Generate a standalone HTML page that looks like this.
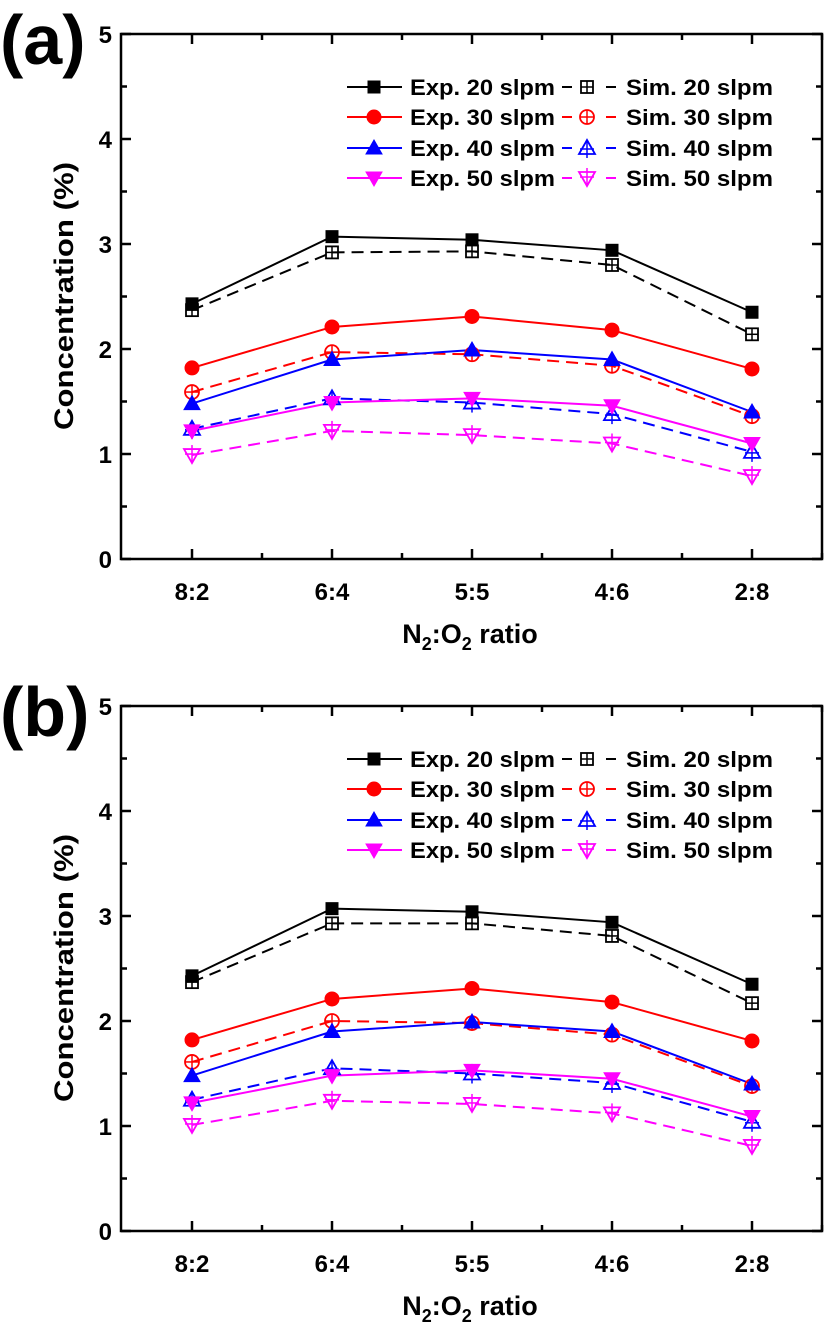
<!DOCTYPE html>
<html><head><meta charset="utf-8"><style>
html,body{margin:0;padding:0;background:#fff}
svg text{font-family:"Liberation Sans",Arial,sans-serif;font-weight:bold;fill:#000}
</style></head><body>
<svg id="s" width="830" height="1329" viewBox="0 0 830 1329" xmlns="http://www.w3.org/2000/svg">
<g id="pa">
<text x="0" y="64" font-size="70">(a)</text>
<g font-size="24" text-anchor="end">
<text x="112" y="568">0</text><text x="112" y="463">1</text><text x="112" y="358">2</text><text x="112" y="253">3</text><text x="112" y="148">4</text><text x="112" y="43">5</text>
</g>
<g font-size="24" text-anchor="middle">
<text x="192" y="600">8:2</text><text x="332" y="600">6:4</text><text x="472" y="600">5:5</text><text x="612" y="600">4:6</text><text x="752" y="600">2:8</text>
</g>
<text x="470" y="643" font-size="27" text-anchor="middle">N<tspan font-size="18" dy="7">2</tspan><tspan dy="-7">:O</tspan><tspan font-size="18" dy="7">2</tspan><tspan dy="-7"> ratio</tspan></text>
<text transform="translate(73,296) rotate(-90)" font-size="27" text-anchor="middle" textLength="268" lengthAdjust="spacingAndGlyphs">Concentration (%)</text>
<g font-size="22">
<text x="410" y="95" textLength="145" lengthAdjust="spacingAndGlyphs">Exp. 20 slpm</text><text x="410" y="125" textLength="145" lengthAdjust="spacingAndGlyphs">Exp. 30 slpm</text><text x="410" y="156" textLength="145" lengthAdjust="spacingAndGlyphs">Exp. 40 slpm</text><text x="410" y="186" textLength="145" lengthAdjust="spacingAndGlyphs">Exp. 50 slpm</text>
<text x="626" y="95" textLength="147" lengthAdjust="spacingAndGlyphs">Sim. 20 slpm</text><text x="626" y="125" textLength="147" lengthAdjust="spacingAndGlyphs">Sim. 30 slpm</text><text x="626" y="156" textLength="147" lengthAdjust="spacingAndGlyphs">Sim. 40 slpm</text><text x="626" y="186" textLength="147" lengthAdjust="spacingAndGlyphs">Sim. 50 slpm</text>
</g>
</g>
<g id="pb" transform="translate(0,672)">
<text x="0" y="64" font-size="70">(b)</text>
<g font-size="24" text-anchor="end">
<text x="112" y="568">0</text><text x="112" y="463">1</text><text x="112" y="358">2</text><text x="112" y="253">3</text><text x="112" y="148">4</text><text x="112" y="43">5</text>
</g>
<g font-size="24" text-anchor="middle">
<text x="192" y="600">8:2</text><text x="332" y="600">6:4</text><text x="472" y="600">5:5</text><text x="612" y="600">4:6</text><text x="752" y="600">2:8</text>
</g>
<text x="470" y="643" font-size="27" text-anchor="middle">N<tspan font-size="18" dy="7">2</tspan><tspan dy="-7">:O</tspan><tspan font-size="18" dy="7">2</tspan><tspan dy="-7"> ratio</tspan></text>
<text transform="translate(73,296) rotate(-90)" font-size="27" text-anchor="middle" textLength="268" lengthAdjust="spacingAndGlyphs">Concentration (%)</text>
<g font-size="22">
<text x="410" y="95" textLength="145" lengthAdjust="spacingAndGlyphs">Exp. 20 slpm</text><text x="410" y="125" textLength="145" lengthAdjust="spacingAndGlyphs">Exp. 30 slpm</text><text x="410" y="156" textLength="145" lengthAdjust="spacingAndGlyphs">Exp. 40 slpm</text><text x="410" y="186" textLength="145" lengthAdjust="spacingAndGlyphs">Exp. 50 slpm</text>
<text x="626" y="95" textLength="147" lengthAdjust="spacingAndGlyphs">Sim. 20 slpm</text><text x="626" y="125" textLength="147" lengthAdjust="spacingAndGlyphs">Sim. 30 slpm</text><text x="626" y="156" textLength="147" lengthAdjust="spacingAndGlyphs">Sim. 40 slpm</text><text x="626" y="186" textLength="147" lengthAdjust="spacingAndGlyphs">Sim. 50 slpm</text>
</g>
</g>
</svg>
<script>
var NS="http://www.w3.org/2000/svg";
function el(p,t,a){var e=document.createElementNS(NS,t);for(var k in a)e.setAttribute(k,a[k]);p.appendChild(e);return e;}
var X=[192,332,472,612,752];
function Y(v){return 559-105*v;}
var cols=["#000","#f00","#00f","#f0f"];
var dataA={exp:[[2.43,3.07,3.04,2.94,2.35],[1.82,2.21,2.31,2.18,1.81],[1.48,1.90,1.99,1.90,1.40],[1.22,1.49,1.53,1.46,1.10]],
sim:[[2.37,2.92,2.93,2.80,2.14],[1.59,1.97,1.95,1.84,1.36],[1.24,1.53,1.49,1.38,1.02],[0.99,1.22,1.18,1.10,0.79]]};
var dataB={exp:[[2.43,3.07,3.04,2.94,2.35],[1.82,2.21,2.31,2.18,1.81],[1.48,1.90,1.99,1.90,1.40],[1.22,1.48,1.53,1.45,1.09]],
sim:[[2.37,2.93,2.93,2.81,2.17],[1.61,2.00,1.98,1.87,1.38],[1.25,1.55,1.50,1.41,1.04],[1.01,1.24,1.21,1.12,0.81]]};
function marker(g,i,x,y,filled){var c=cols[i],s=7;
 var f=filled?c:"none",sw=filled?1:1.8;
 if(i==0){el(g,"rect",{x:x-s+1,y:y-s+1,width:2*s-2,height:2*s-2,fill:f,stroke:c,"stroke-width":sw});
  if(!filled){el(g,"line",{x1:x-s+1,y1:y,x2:x+s-1,y2:y,stroke:c,"stroke-width":1.5});el(g,"line",{x1:x,y1:y-s+1,x2:x,y2:y+s-1,stroke:c,"stroke-width":1.5});}}
 else if(i==1){el(g,"circle",{cx:x,cy:y,r:s,fill:f,stroke:c,"stroke-width":sw});
  if(!filled){el(g,"line",{x1:x-s,y1:y,x2:x+s,y2:y,stroke:c,"stroke-width":1.5});el(g,"line",{x1:x,y1:y-s,x2:x,y2:y+s,stroke:c,"stroke-width":1.5});}}
 else if(i==2){el(g,"polygon",{points:(x)+","+(y-s-1)+" "+(x+s+1)+","+(y+s-1)+" "+(x-s-1)+","+(y+s-1),fill:f,stroke:c,"stroke-width":sw});
  if(!filled){el(g,"line",{x1:x-s,y1:y+1,x2:x+s,y2:y+1,stroke:c,"stroke-width":1.5});el(g,"line",{x1:x,y1:y-s,x2:x,y2:y+s+3,stroke:c,"stroke-width":1.5});}}
 else {el(g,"polygon",{points:(x)+","+(y+s+1)+" "+(x+s+1)+","+(y-s+1)+" "+(x-s-1)+","+(y-s+1),fill:f,stroke:c,"stroke-width":sw});
  if(!filled){el(g,"line",{x1:x-s,y1:y-1,x2:x+s,y2:y-1,stroke:c,"stroke-width":1.5});el(g,"line",{x1:x,y1:y-s-3,x2:x,y2:y+s,stroke:c,"stroke-width":1.5});}}
}
function panel(g,d){
 var ax=el(g,"g",{stroke:"#000","stroke-width":2.5,fill:"none"});
 el(ax,"rect",{x:121,y:34,width:701,height:525});
 for(var v=0;v<=5;v+=0.5){var y=Y(v),L=(v%1==0)?10:6;
  el(ax,"line",{x1:121,y1:y,x2:121+L,y2:y});el(ax,"line",{x1:822,y1:y,x2:822-L,y2:y});}
 for(var xx=192;xx<=822;xx+=70){var maj=((xx-192)%140==0),L=maj?10:6;
  el(ax,"line",{x1:xx,y1:559,x2:xx,y2:559-L});el(ax,"line",{x1:xx,y1:34,x2:xx,y2:34+L});}
 for(var i=0;i<4;i++){
  var p1=X.map(function(x,j){return x+","+Y(d.sim[i][j]);}).join(" ");
  el(g,"polyline",{points:p1,fill:"none",stroke:cols[i],"stroke-width":2,"stroke-dasharray":"12,7"});
  var p2=X.map(function(x,j){return x+","+Y(d.exp[i][j]);}).join(" ");
  el(g,"polyline",{points:p2,fill:"none",stroke:cols[i],"stroke-width":2});
 }
 for(var i=0;i<4;i++){for(var j=0;j<5;j++){marker(g,i,X[j],Y(d.sim[i][j]),false);marker(g,i,X[j],Y(d.exp[i][j]),true);}}
 var ly=[87,117,148,178];
 for(var i=0;i<4;i++){var y=ly[i];
  el(g,"line",{x1:347,y1:y,x2:402,y2:y,stroke:cols[i],"stroke-width":2});marker(g,i,374,y,true);
  el(g,"line",{x1:562,y1:y,x2:618,y2:y,stroke:cols[i],"stroke-width":2,"stroke-dasharray":"10,12"});
  el(g,"rect",{x:577,y:y-9,width:20,height:18,fill:"#fff"});marker(g,i,587,y,false);}
}
panel(document.getElementById("pa"),dataA);
panel(document.getElementById("pb"),dataB);
</script>
</body></html>
